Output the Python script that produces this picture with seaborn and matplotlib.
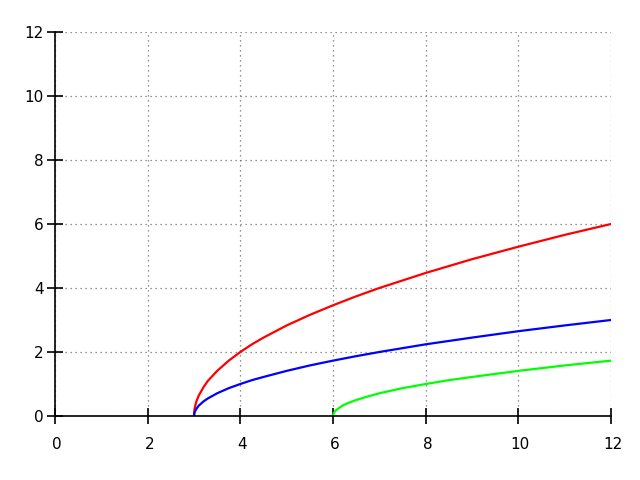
import matplotlib
matplotlib.use("Agg")
import matplotlib.pyplot as plt
import matplotlib.transforms as mtransforms
import seaborn as sns

# curva roja
red_x = [3.0, 3.01, 3.02, 3.05, 3.1, 3.2, 3.3, 3.5, 3.75, 4.0, 4.25, 4.5, 5.0, 5.5, 6.0, 6.5, 7.0, 8.0, 9.0, 10.0, 11.0, 12.0]
red_y = [0.0, 0.2, 0.28, 0.45, 0.63, 0.89, 1.1, 1.41, 1.73, 2.0, 2.24, 2.45, 2.83, 3.16, 3.46, 3.74, 4.0, 4.47, 4.9, 5.29, 5.66, 6.0]

# curva azul
blue_x = [3.0, 3.01, 3.02, 3.05, 3.1, 3.2, 3.3, 3.5, 3.75, 4.0, 4.25, 4.5, 5.0, 5.5, 6.0, 6.5, 7.0, 8.0, 9.0, 10.0, 11.0, 12.0]
blue_y = [0.0, 0.1, 0.14, 0.22, 0.32, 0.45, 0.55, 0.71, 0.87, 1.0, 1.12, 1.22, 1.41, 1.58, 1.73, 1.87, 2.0, 2.24, 2.45, 2.65, 2.83, 3.0]

# curva verde
green_x = [6.0, 6.01, 6.02, 6.05, 6.1, 6.2, 6.3, 6.5, 6.75, 7.0, 7.5, 8.0, 8.5, 9.0, 10.0, 11.0, 12.0]
green_y = [0.0, 0.07, 0.1, 0.16, 0.22, 0.32, 0.39, 0.5, 0.61, 0.71, 0.87, 1.0, 1.12, 1.22, 1.41, 1.58, 1.73]

ticks = [0, 2, 4, 6, 8, 10, 12]

sns.set_style("white")
plt.rcParams["font.family"] = ["DejaVu Sans"]

fig = plt.figure(figsize=(6.4, 4.8), dpi=100)
ax = fig.add_axes([55 / 640, 64 / 480, 556 / 640, 384 / 480])

sns.lineplot(x=red_x, y=red_y, color="#ff0000", linewidth=1.6, ax=ax)
sns.lineplot(x=blue_x, y=blue_y, color="#0000ff", linewidth=1.6, ax=ax)
sns.lineplot(x=green_x, y=green_y, color="#00ff00", linewidth=1.6, ax=ax)

ax.set_xlim(0, 12)
ax.set_ylim(0, 12)
ax.set_xticks(ticks)
ax.set_yticks(ticks)

# ejes cruzando en cero, sin marco arriba/derecha
ax.spines["left"].set_position(("data", 0))
ax.spines["bottom"].set_position(("data", 0))
ax.spines["top"].set_visible(False)
ax.spines["right"].set_visible(False)
for s in ["left", "bottom"]:
    ax.spines[s].set_color("black")
    ax.spines[s].set_linewidth(1.2)

ax.tick_params(axis="both", direction="inout", length=11, width=1.2,
               color="black", labelsize=11, labelcolor="black",
               bottom=True, left=True)
ax.tick_params(axis="x", pad=9.5)
ax.tick_params(axis="y", pad=2.5)

# las etiquetas del eje x van un poco corridas a la derecha
offset = mtransforms.ScaledTranslation(2 / 100, 0, fig.dpi_scale_trans)
for lbl in ax.get_xticklabels():
    lbl.set_transform(lbl.get_transform() + offset)

ax.grid(True, linestyle=(0, (1, 3)), color="0.45", linewidth=0.9)
ax.set_axisbelow(True)

fig.savefig("out.png", dpi=100)
